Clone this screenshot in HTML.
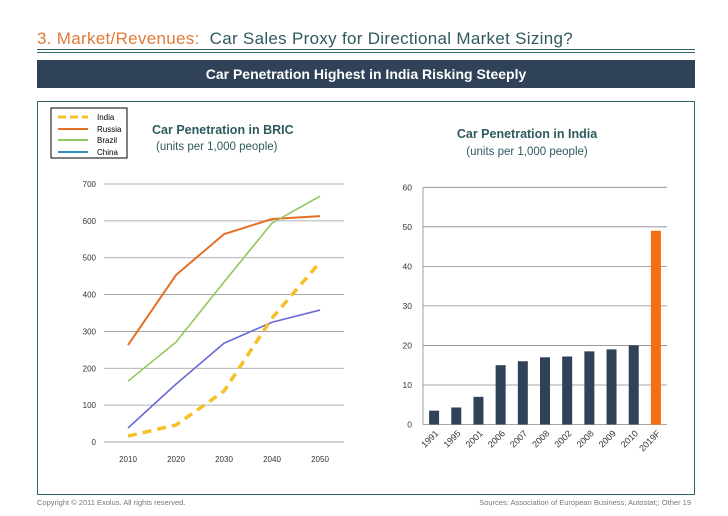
<!DOCTYPE html>
<html><head><meta charset="utf-8"><style>
body{margin:0;width:728px;height:516px;background:#fff;font-family:"Liberation Sans",sans-serif;position:relative;overflow:hidden}
.a{position:absolute}
</style></head><body>
<div class="a" style="left:37px;top:29px;font-size:17px;white-space:nowrap;letter-spacing:0.3px"><span style="color:#e07b39">3. Market/Revenues:</span> <span style="color:#2e5a5e">&nbsp;Car Sales Proxy for Directional Market Sizing?</span></div>
<div class="a" style="left:37px;top:49px;width:658px;height:1px;background:#2e6468"></div>
<div class="a" style="left:37px;top:52px;width:658px;height:1px;background:#2e6468"></div>
<div class="a" style="left:37px;top:60px;width:658px;height:28px;background:#2f4257;color:#fff;font-weight:bold;font-size:14px;text-align:center;line-height:28px">Car Penetration Highest in India Risking Steeply</div>
<div class="a" style="left:37px;top:101px;width:656px;height:392px;border:1.5px solid #2e6468"></div>
<div class="a" style="left:37px;top:498px;font-size:7.5px;color:#777">Copyright © 2011 Exolus. All rights reserved.</div>
<div class="a" style="right:37px;top:498px;font-size:7.5px;color:#777">Sources: Association of European Business; Autostat;; Other 19</div>
<svg class="a" style="left:0;top:0" width="728" height="516" id="svg">
<g>
<rect x="51" y="108" width="76" height="50" fill="#fff" stroke="#000"/>
<line x1="58" y1="117" x2="88" y2="117" stroke="#f5c02a" stroke-width="3" stroke-dasharray="8,4"/>
<text x="97" y="120" font-size="8">India</text>
<line x1="58" y1="129" x2="88" y2="129" stroke="#e56f27" stroke-width="2"/>
<text x="97" y="132" font-size="8">Russia</text>
<line x1="58" y1="140" x2="88" y2="140" stroke="#92c660" stroke-width="2"/>
<text x="97" y="143" font-size="8">Brazil</text>
<line x1="58" y1="152" x2="88" y2="152" stroke="#2f8fc0" stroke-width="2"/>
<text x="97" y="155" font-size="8">China</text>
</g>
<text x="152" y="134" font-size="12.5" font-weight="bold" fill="#2e5a5e">Car Penetration in BRIC</text>
<text x="156" y="150" font-size="11.5" fill="#2e5a5e">(units per 1,000 people)</text>
<text x="527" y="138" font-size="12.5" font-weight="bold" fill="#2e5a5e" text-anchor="middle">Car Penetration in India</text>
<text x="527" y="155" font-size="11.5" fill="#2e5a5e" text-anchor="middle">(units per 1,000 people)</text>
<g id="left"></g><g id="right"></g>
</svg>
<script>
const years=["2010","2020","2030","2040","2050"];
const leftTicks=[0,100,200,300,400,500,600,700];
const russia=[263,453,564,605,613];
const brazil=[165,271,434,594,667];
const china=[38,157,268,325,358];
const india=[16,46,138,336,488];
const barCats=["1991","1995","2001","2006","2007","2008","2002","2008","2009","2010","2019F"];
const barVals=[3.5,4.3,7,15,16,17,17.2,18.5,19,20,49];
const rightTicks=[0,10,20,30,40,50,60];
const NS="http://www.w3.org/2000/svg";
function mk(t,a,p){const e=document.createElementNS(NS,t);for(const k in a)e.setAttribute(k,a[k]);p.appendChild(e);return e;}
const L=document.getElementById('left'),R=document.getElementById('right');
const lx=i=>128+i*48, ly=v=>442-v*258/700;
leftTicks.forEach(t=>{
 const g=mk('line',{x1:104,x2:344,y1:ly(t),y2:ly(t),stroke:t?'#999':'#888','stroke-width':0.8},L);
 
 const tx=mk('text',{x:96,y:ly(t)+3,'font-size':8,'text-anchor':'end',fill:'#333'},L);tx.textContent=t;
 
});
years.forEach((y,i)=>{const tx=mk('text',{x:lx(i),y:462,'font-size':8,'text-anchor':'middle',fill:'#333'},L);tx.textContent=y;
 });
[[russia,'#e56f27',2,'','russia-line'],[brazil,'#92c660',1.6,'','brazil-line'],[china,'#6a6ad8',1.6,'','china-line'],[india,'#f5c02a',3.5,'9,6','india-line']].forEach(s=>{
 const p=mk('polyline',{points:s[0].map((v,i)=>lx(i)+','+ly(v)).join(' '),fill:'none',stroke:s[1],'stroke-width':s[2]},L);
 if(s[3])p.setAttribute('stroke-dasharray',s[3]);
 
});
const x0=423,x1=667,cw=(x1-x0)/barCats.length,ry=v=>424.5-v*237.2/60;
rightTicks.forEach(t=>{
 const g=mk('line',{x1:x0,x2:x1,y1:ry(t),y2:ry(t),stroke:'#888','stroke-width':0.8},R);
 
 const tx=mk('text',{x:412,y:ry(t)+3,'font-size':8.5,'text-anchor':'end',fill:'#333'},R);tx.textContent=t;
 
});
mk('line',{x1:x0,x2:x0,y1:ry(60),y2:ry(0),stroke:'#888','stroke-width':0.8},R);
barVals.forEach((v,i)=>{
 const cx=x0+cw*(i+0.5);
 const b=mk('rect',{x:cx-5,y:ry(v),width:10,height:ry(0)-ry(v),fill:i==barVals.length-1?'#f36f0f':'#2f4257'},R);
 
 const tx=mk('text',{x:cx+5,y:434,'font-size':9,'text-anchor':'end',fill:'#333',transform:`rotate(-45 ${cx+5} 434)`},R);tx.textContent=barCats[i];
 
});
</script>
</body></html>
